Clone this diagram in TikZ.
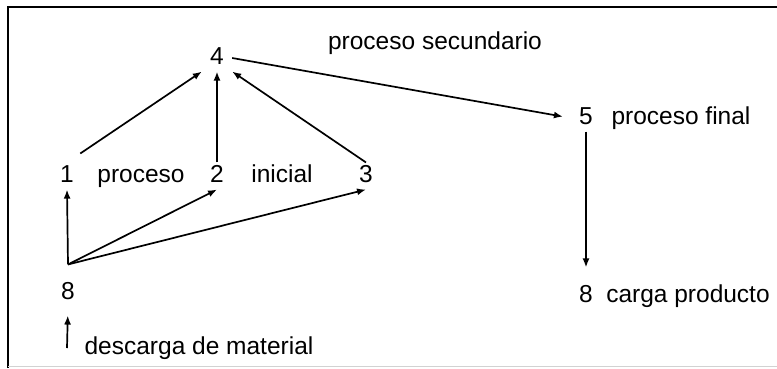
\documentclass[tikz,border=0pt]{standalone}
\usepackage{fontspec}
\setmainfont{Liberation Sans}
\usetikzlibrary{positioning, arrows.meta}

\begin{document}
\begin{tikzpicture}[
  x=1pt, y=-1pt,
  >={Latex[length=9pt, width=7pt]},
  every node/.style={font=\fontsize{24.5}{28}\selectfont, text height=17.6pt, text depth=5.1pt},
  num/.style  = {inner sep=2pt, minimum width=30pt},
  lbl/.style  = {inner sep=1pt},
  arr/.style  = {->, line width=1.7pt},
  frame/.style= {line width=2pt},
]
  \useasboundingbox (0,0) rectangle (777,368);
  % frame
  \draw[frame] (8,368) -- (8,7) -- (777,7);
  \draw[gray!35, line width=1pt] (8,366) -- (777,366);

  \node[num] (n4) at (217,58) {4};
  \node[num] (n1) at (67,176) {1};
  \node[num] (n2) at (217,176) {2};
  \node[num] (n3) at (366,176) {3};
  \node[num] (n5) at (586,118) {5};
  \node[num] (n8a) at (68,293) {8};
  \node[num] (n8b) at (586,296) {8};
  \coordinate[above=15pt of n8a] (hub);
  \coordinate (dm) at (67,348);

  \node[lbl] (proc) at (141,176) {proceso};
  \node[lbl] (ini) at (282,176) {inicial};
  \node[lbl] (sec) at (435,43) {proceso secundario};
  \node[lbl] (fin) at (681,118) {proceso final};
  \node[lbl] (carga) at (688,296) {carga producto};
  \node[lbl] (desc) at (199,348) {descarga de material};

  \draw[arr, shorten <=16pt] (n1.north) -- (n4.south west);
  \draw[arr] (n2.north) -- (n4.south);
  \draw[arr] (n3.north) -- (n4.south east);
  \draw[arr, shorten >=8pt] (n4.east) -- (n5.west);
  \draw[arr, shorten >=15pt] (n5.south) -- (n8b.north);
  \foreach \t in {n1,n2,n3}\draw[arr](hub)--(\t.south);
  \draw[arr, shorten >=9pt] (dm) -- (n8a.south);
\end{tikzpicture}
\end{document}
